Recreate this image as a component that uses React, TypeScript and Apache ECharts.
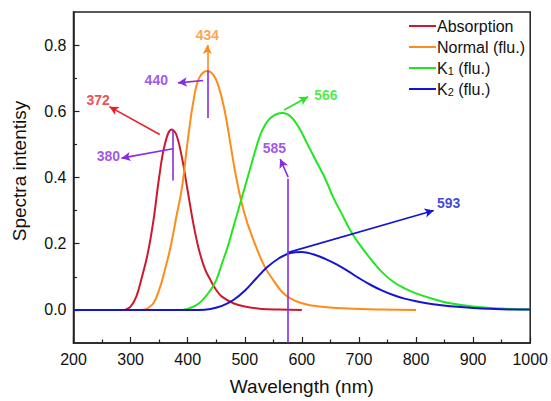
import React, { useEffect, useRef } from "react";
import * as echarts from "echarts";

// ---- data ----
const absWl = [290, 300, 310, 320, 330, 340, 350, 360, 372, 380, 390, 400, 410, 420, 430, 440, 450, 460, 480, 500, 530, 560, 600];
const absVal = [0, 0.01, 0.04, 0.1, 0.17, 0.27, 0.4, 0.5, 0.545, 0.53, 0.46, 0.36, 0.26, 0.18, 0.125, 0.09, 0.06, 0.04, 0.02, 0.01, 0.003, 0.001, 0];

const norWl = [320, 330, 340, 350, 360, 370, 380, 390, 400, 410, 420, 434, 445, 455, 465, 475, 485, 495, 505, 520, 535, 550, 565, 580, 600, 630, 680, 740, 800];
const norVal = [0, 0.005, 0.02, 0.06, 0.12, 0.19, 0.28, 0.37, 0.51, 0.63, 0.7, 0.722, 0.71, 0.67, 0.6, 0.5, 0.4, 0.32, 0.26, 0.19, 0.13, 0.09, 0.055, 0.035, 0.02, 0.01, 0.004, 0.001, 0];

const k1Wl = [390, 400, 420, 440, 450, 460, 470, 480, 490, 500, 510, 520, 530, 545, 566, 580, 595, 610, 625, 640, 655, 670, 685, 700, 720, 740, 760, 780, 800, 830, 860, 900, 950, 1000];
const k1Val = [0, 0.003, 0.02, 0.06, 0.09, 0.14, 0.19, 0.25, 0.31, 0.37, 0.43, 0.49, 0.54, 0.58, 0.595, 0.585, 0.55, 0.5, 0.45, 0.4, 0.34, 0.29, 0.24, 0.2, 0.155, 0.115, 0.085, 0.065, 0.05, 0.033, 0.02, 0.01, 0.004, 0.001];

const k2Wl = [200, 420, 440, 460, 480, 500, 520, 540, 560, 580, 600, 620, 640, 660, 680, 700, 720, 740, 760, 780, 800, 830, 860, 900, 950, 1000];
const k2Val = [0, 0, 0.003, 0.012, 0.03, 0.058, 0.095, 0.13, 0.156, 0.172, 0.175, 0.168, 0.155, 0.138, 0.118, 0.096, 0.076, 0.059, 0.045, 0.034, 0.026, 0.017, 0.011, 0.006, 0.002, 0.001];

const seriesNames = ["Absorption", "Normal (flu.)", "K1 (flu.)", "K2 (flu.)"];
const seriesColors = ["#cc1a2c", "#ff8c1a", "#22e622", "#1414d2"];

const xTicks = [200, 300, 400, 500, 600, 700, 800, 900, 1000];
const yMajor = [0, 0.2, 0.4, 0.6, 0.8];
const yMinor = [0.1, 0.3, 0.5, 0.7];

// annotation arrows
const purple = "#8a2be2";
const arrowFrom = [
  [351, 0.53],
  [374, 0.487],
  [434.5, 0.722],
  [427, 0.693],
  [569, 0.604],
  [576, 0.401],
  [575, 0.173],
];
const arrowTo = [
  [263, 0.614],
  [284, 0.4585],
  [434.5, 0.8],
  [383, 0.686],
  [611, 0.644],
  [562, 0.456],
  [831, 0.3],
];
const arrowColors = ["#e52229", purple, "#ff8c1a", purple, "#22e622", purple, "#1414d2"];
// plain guide lines (no arrow)
const guideFrom = [
  [373, 0.545],
  [434.5, 0.723],
  [576, -0.1],
];
const guideTo = [
  [373, 0.391],
  [434.5, 0.58],
  [576, 0.396],
];
// annotation labels
const labelPos = [
  [243, 0.633],
  [261, 0.466],
  [434.5, 0.832],
  [345, 0.695],
  [642, 0.649],
  [552, 0.49],
  [857, 0.322],
];
const labelText = ["372", "380", "434", "440", "566", "585", "593"];

const FONT = 'Arial, "Liberation Sans", Helvetica, sans-serif';

export default function App() {
  const ref = useRef<HTMLDivElement>(null);
  useEffect(() => {
    if (!ref.current) return;
    const chart = echarts.init(ref.current, undefined, { renderer: "svg" });
    const curves = [
      [absWl, absVal],
      [norWl, norVal],
      [k1Wl, k1Val],
      [k2Wl, k2Val],
    ];
    const lineSeries = curves.map(([wl, v], i) => ({
      name: seriesNames[i],
      type: "line",
      data: (wl as number[]).map((w, j) => [w, (v as number[])[j]]),
      smooth: 0.4,
      symbol: "none",
      legendIcon: "rect",
      lineStyle: { color: seriesColors[i], width: 2 },
      itemStyle: { color: seriesColors[i] },
      z: 2,
    }));
    const markData: any[] = [];
    arrowFrom.forEach((f, i) => {
      markData.push([
        { coord: f, symbol: "none", lineStyle: { color: arrowColors[i], width: 1.6, type: "solid" } },
        { coord: arrowTo[i], symbol: "arrow" },
      ]);
    });
    guideFrom.forEach((f, i) => {
      markData.push([
        { coord: f, symbol: "none", lineStyle: { color: purple, width: 1.6, type: "solid" } },
        { coord: guideTo[i], symbol: "none" },
      ]);
    });
    const option: any = {
      animation: false,
      textStyle: { fontFamily: FONT },
      grid: {
        left: 73.5,
        right: 19.5,
        top: 12,
        bottom: 52.5,
        show: true,
        borderColor: "#222",
        borderWidth: 1.5,
        containLabel: false,
      },
      legend: {
        data: seriesNames,
        orient: "vertical",
        left: 404,
        top: 13,
        icon: "rect",
        itemWidth: 27,
        itemHeight: 2,
        itemGap: 5,
        selectedMode: false,
        textStyle: {
          fontFamily: FONT,
          fontSize: 16,
          lineHeight: 16,
          color: "#111",
          padding: [0, 0, 0, -4],
          rich: {
            s: { fontFamily: FONT, fontSize: 11, lineHeight: 16, color: "#111", verticalAlign: "bottom", padding: [4, 0, 0, 0] },
          },
        },
        formatter: (name: string) => name.replace(/^K(\d)/, "K{s|$1}"),
      },
      xAxis: {
        type: "value",
        min: 200,
        max: 1000,
        interval: 100,
        name: "Wavelength (nm)",
        nameLocation: "middle",
        nameGap: 34,
        nameTextStyle: { fontFamily: FONT, fontSize: 19, color: "#111" },
        axisLine: { show: true, onZero: false, lineStyle: { color: "#222", width: 1.5 } },
        axisTick: { show: true, inside: true, length: 6, lineStyle: { color: "#222", width: 1.2 } },
        minorTick: { show: true, splitNumber: 2, length: 3.5, lineStyle: { color: "#222", width: 1.2 } },
        axisLabel: {
          fontFamily: FONT,
          fontSize: 16,
          color: "#111",
          margin: 8,
          customValues: xTicks,
          formatter: (v: number) => String(v),
        },
        splitLine: { show: false },
        minorSplitLine: { show: false },
      },
      yAxis: [
        {
          type: "value",
          min: -0.1,
          max: 0.9,
          name: "Spectra intentisy",
          nameLocation: "middle",
          nameGap: 45,
          nameRotate: 90,
          nameTextStyle: { fontFamily: FONT, fontSize: 19, color: "#111", padding: [0, 0, 0, 13] },
          axisLine: { show: true, onZero: false, lineStyle: { color: "#222", width: 1.5 } },
          axisTick: { show: true, inside: true, length: 6, customValues: yMajor, lineStyle: { color: "#222", width: 1.2 } },
          axisLabel: {
            fontFamily: FONT,
            fontSize: 16,
            color: "#111",
            margin: 7,
            customValues: yMajor,
            formatter: (v: number) => v.toFixed(1),
          },
          splitLine: { show: false },
        },
        {
          type: "value",
          min: -0.1,
          max: 0.9,
          position: "left",
          axisLine: { show: false },
          axisTick: { show: true, inside: true, length: 3.5, customValues: yMinor, lineStyle: { color: "#222", width: 1.2 } },
          axisLabel: { show: false },
          splitLine: { show: false },
        },
      ],
      series: [
        ...lineSeries,
        {
          name: "annotations",
          type: "line",
          data: [],
          symbol: "none",
          markLine: {
            silent: true,
            symbol: ["none", "arrow"],
            symbolSize: [7, 9],
            label: { show: false },
            emphasis: { disabled: true },
            data: markData,
          },
          z: 3,
        },
        {
          name: "labels",
          type: "scatter",
          symbolSize: 1,
          itemStyle: { color: "rgba(0,0,0,0)" },
          silent: true,
          data: labelPos.map((p, i) => ({
            value: [p[0], p[1], labelText[i]],
            label: {
              show: true,
              position: "inside",
              formatter: labelText[i],
              color: arrowColors[i],
              fontFamily: FONT,
              fontSize: 14,
              fontWeight: "bold",
            },
          })),
          z: 4,
        },
      ],
    };
    chart.setOption(option);
    return () => chart.dispose();
  }, []);
  return (
    <div
      ref={ref}
      style={{ position: "absolute", left: 0, top: 0, width: 551, height: 401, background: "#fff" }}
    />
  );
}
